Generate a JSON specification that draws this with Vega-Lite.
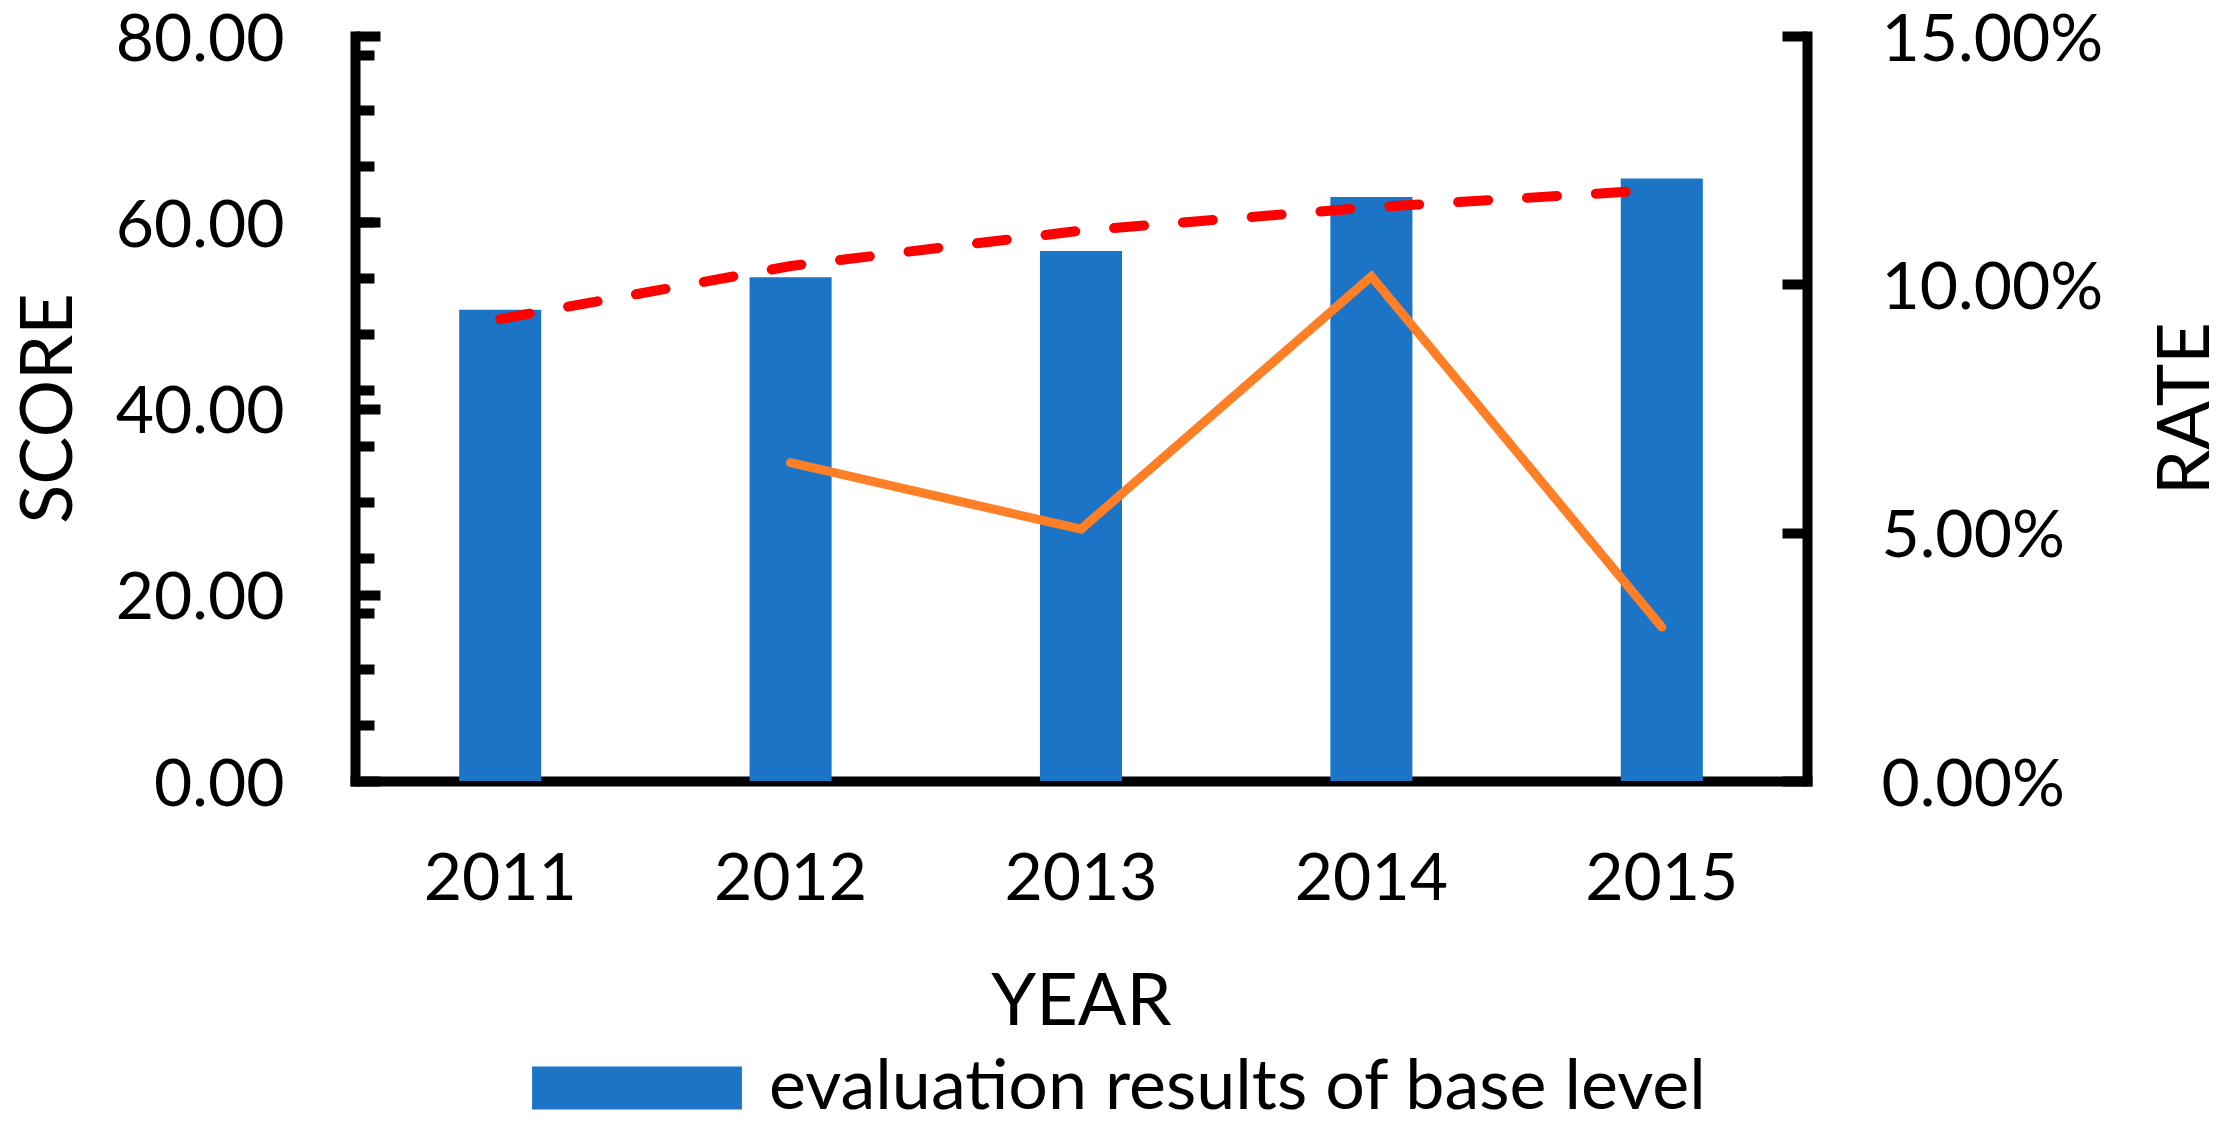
{
  "$schema": "https://vega.github.io/schema/vega-lite/v6.json",
  "width": 1452,
  "height": 745,
  "autosize": {"type": "none"},
  "padding": {"left": 355, "top": 36, "right": 416, "bottom": 341},
  "background": "white",
  "config": {
    "view": {"stroke": null},
    "font": "Lato",
    "axis": {
      "grid": false,
      "domainColor": "black",
      "tickColor": "black",
      "labelColor": "black",
      "titleColor": "black",
      "domainWidth": 10,
      "tickWidth": 10,
      "labelFont": "Lato",
      "titleFont": "Lato",
      "labelFontSize": 66,
      "titleFontSize": 72,
      "titleFontWeight": "normal",
      "labelLimit": 1000,
      "domainCap": "square",
      "zindex": 1
    }
  },
  "data": {
    "values": [
      {"year": "2011", "score": 50.6, "trend": 49.6},
      {"year": "2012", "score": 54.1, "trend": 55.3, "rate": 0.0641},
      {"year": "2013", "score": 56.9, "trend": 59.1, "rate": 0.0507},
      {"year": "2014", "score": 62.7, "trend": 61.6, "rate": 0.1016},
      {"year": "2015", "score": 64.7, "trend": 63.5, "rate": 0.031}
    ]
  },
  "encoding": {
    "x": {
      "field": "year",
      "type": "nominal",
      "sort": null,
      "scale": {"paddingInner": 0.7175, "paddingOuter": 0.3587},
      "axis": {
        "labelAngle": 0,
        "ticks": false,
        "labelPadding": 66,
        "title": "YEAR",
        "titleY": 243,
        "titleBaseline": "alphabetic"
      }
    }
  },
  "layer": [
    {
      "mark": {"type": "bar"},
      "encoding": {
        "y": {
          "field": "score",
          "type": "quantitative",
          "scale": {"domain": [0, 80], "nice": false},
          "axis": {
            "orient": "left",
            "values": [0, 20, 40, 60, 80],
            "format": ".2f",
            "tickSize": -25,
            "labelAlign": "right",
            "labelBaseline": "middle",
            "labelPadding": 96,
            "labelOffset": 4,
            "title": "SCORE",
            "titleAngle": -90,
            "titleX": -284,
            "titleY": 372,
            "titleAlign": "center",
            "titleBaseline": "alphabetic"
          }
        },
        "color": {
          "datum": "evaluation results of base level",
          "type": "nominal",
          "scale": {"range": ["#1B74C6"]},
          "legend": {
            "orient": "none",
            "legendX": 239,
            "legendY": 1009,
            "title": null,
            "padding": 0,
            "symbolType": "M-2.44,-0.5H2.44V0.5H-2.44Z",
            "symbolSize": 7396,
            "symbolStrokeWidth": 0,
            "labelFont": "Lato",
            "labelFontSize": 70,
            "labelColor": "black",
            "labelOffset": 89,
            "labelLimit": 2000
          }
        }
      }
    },
    {
      "mark": {"type": "line", "color": "#FF0000", "strokeWidth": 10, "strokeDash": [30, 39], "strokeCap": "round"},
      "encoding": {
        "y": {
          "field": "trend",
          "type": "quantitative",
          "scale": {"domain": [0, 80], "nice": false},
          "axis": {
            "orient": "left",
            "values": [6, 12, 18, 24, 30, 36, 42, 48, 54, 60, 66, 72, 78],
            "tickSize": -19,
            "labels": false,
            "domain": false,
            "title": null
          }
        }
      }
    },
    {
      "mark": {"type": "line", "color": "#FF7F27", "strokeWidth": 9, "strokeCap": "round", "strokeJoin": "miter"},
      "encoding": {
        "y": {
          "field": "rate",
          "type": "quantitative",
          "scale": {"domain": [0, 0.15], "nice": false},
          "axis": {
            "orient": "right",
            "values": [0, 0.05, 0.1, 0.15],
            "format": ".2%",
            "tickSize": -25,
            "labelAlign": "left",
            "labelBaseline": "middle",
            "labelPadding": 99,
            "labelOffset": 4,
            "title": "RATE",
            "titleAngle": -90,
            "titleX": 401,
            "titleY": 372,
            "titleAlign": "center",
            "titleBaseline": "alphabetic"
          }
        }
      }
    }
  ],
  "resolve": {"scale": {"y": "independent"}, "axis": {"y": "independent"}}
}
